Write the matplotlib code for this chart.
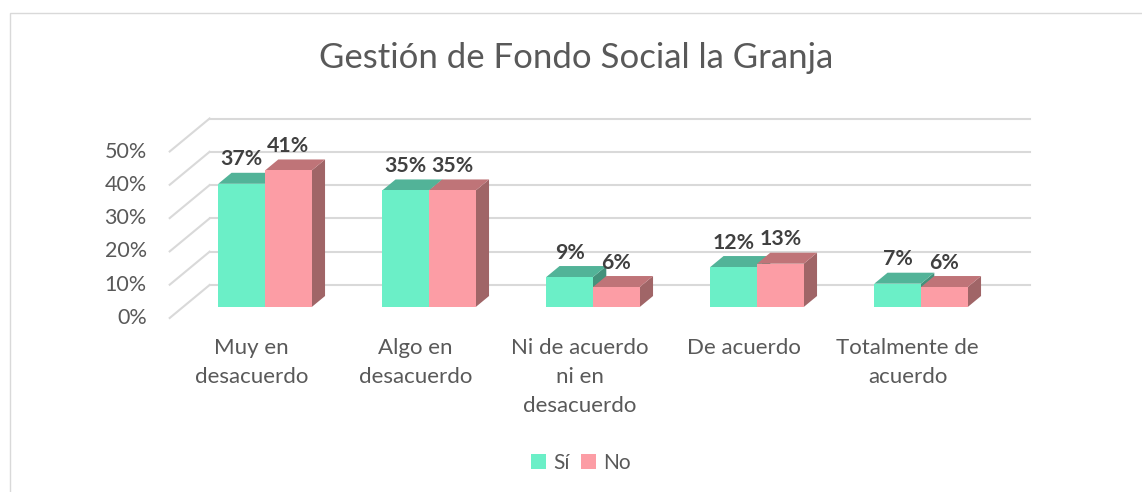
import numpy as np
import matplotlib.pyplot as plt
from matplotlib.patches import Polygon, Rectangle

# data
categories = ['Muy en\ndesacuerdo', 'Algo en\ndesacuerdo', 'Ni de acuerdo\nni en\ndesacuerdo',
              'De acuerdo', 'Totalmente de\nacuerdo']
si = [37, 35, 9, 12, 7]
no = [41, 35, 6, 13, 6]
yticks = [0, 10, 20, 30, 40, 50]
series = ['Sí', 'No']

plt.rcParams['font.family'] = ['Lato', 'DejaVu Sans']

W, H = 1142, 492
fig = plt.figure(figsize=(W / 100, H / 100), dpi=100)
fig.patch.set_facecolor('white')

# axes = front plane of the bars
ax = fig.add_axes([183 / W, 185 / H, 820 / W, 166.5 / H])
ax.set_xlim(-0.5, 4.5)
ax.set_ylim(0, 50)
ax.axis('off')

# pixel -> data conversion
sx = 5 / 820
sy = 50 / 166.5
DX, DY = 13.3, 11.0  # one depth step in pixels


def off(k):
    return k * DX * sx, k * DY * sy


grid_c = '#D9D9D9'
text_c = '#595959'

# back wall gridlines + side wall diagonals
bx, by = off(2)
fx, fy = off(-1)
for t in yticks:
    ax.plot([-0.5 + bx, 4.5 + bx], [t + by, t + by], color=grid_c, lw=1.5, clip_on=False, zorder=1)
    ax.plot([-0.5 + fx, -0.5 + bx], [t + fy, t + by], color=grid_c, lw=1.5, clip_on=False, zorder=1)
    ax.text(-0.5 + fx - 23 * sx, t + fy, f'{t}%', ha='right', va='center',
            fontsize=15.5, color=text_c)

colors = {
    'Sí': ('#6BEFC7', '#52B398', '#44917B'),
    'No': ('#FC9DA5', '#BF7478', '#A06567'),
}

w = 0.285
dx, dy = off(1)
x = np.arange(len(categories))
z = 2
for i in x:
    for name, vals, shift in [('Sí', si, -w / 2), ('No', no, w / 2)]:
        front, top, side = colors[name]
        v = vals[i]
        x0 = i + shift - w / 2
        x1 = x0 + w
        ax.add_patch(Polygon([(x1, 0), (x1, v), (x1 + dx, v + dy), (x1 + dx, dy)],
                             closed=True, fc=side, ec='none', zorder=z, clip_on=False))
        ax.add_patch(Polygon([(x0, v), (x1, v), (x1 + dx, v + dy), (x0 + dx, v + dy)],
                             closed=True, fc=top, ec='none', zorder=z, clip_on=False))
        ax.bar(i + shift, v, w, color=front, zorder=z + 0.5, clip_on=False)
        z += 1

for i in x:
    for vals, shift in [(si, -w / 2), (no, w / 2)]:
        ax.annotate(f'{vals[i]}%', (i + shift, vals[i]), xytext=(0, 24.5), textcoords='offset pixels',
                    ha='center', va='center', fontsize=15.3, fontweight='bold', color='#404040',
                    zorder=50, annotation_clip=False)

# category labels at the front plane
for i, lab in enumerate(categories):
    ax.text(i + fx, fy - 20 * sy, lab, ha='center', va='top', fontsize=16,
            color=text_c, linespacing=1.56)

# title
fig.text(576 / W, 1 - 58 / H, 'Gestión de Fondo Social la Granja', ha='center', va='center',
         fontsize=25, color=text_c)

# legend
handles = [Rectangle((0, 0), 1, 1, fc=colors[s][0], ec='none') for s in series]
fig.legend(handles, series, loc='center', bbox_to_anchor=(581 / W, 29 / H), ncol=2,
           frameon=False, fontsize=15, handlelength=0.7, handleheight=0.7,
           handletextpad=0.35, columnspacing=0.55, labelcolor=text_c)

# outer chart border (cut off on the right and bottom)
fig.patches.append(Rectangle((9.5 / W, -0.1), 2, (H - 13) / H + 0.1, transform=fig.transFigure,
                             fill=False, edgecolor=grid_c, lw=1))

fig.savefig('out.png', dpi=100)
